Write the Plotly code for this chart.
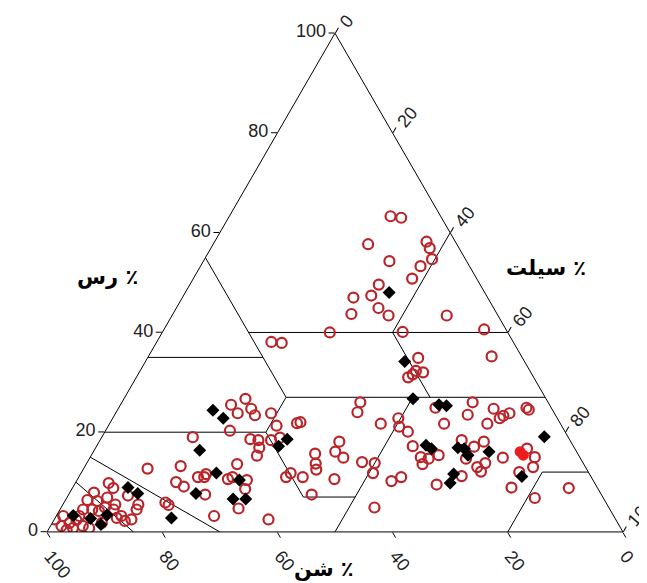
import plotly.graph_objects as go

# red open circles: clay %, sand % (silt = rest)
red_clay = [12.7, 9.8, 8.8, 7.9, 6.4, 6.2, 6.9, 5.5, 7.3, 5.5, 4.5, 2.5, 3.2, 1.2, 1.8, 0.8,
            1.2, 0.8, 3.2, 4.5, 4.5, 4.2, 4.9, 4.5, 3.2, 2.5, 2.8, 2.2, 0.4, 2.4, 1.8,
            5.9, 5.4, 19.0, 13.2, 10.0, 9.1, 11.0, 11.0, 11.6, 7.5, 3.2, 20.3, 25.5, 23.8,
            26.7, 24.7, 23.4, 23.8, 21.3, 21.8, 18.6, 18.4, 16.9, 15.3, 18.4, 18.9, 13.6,
            10.6, 11.0, 10.4, 8.6, 4.7, 2.5, 11.0, 11.8, 38.1, 37.9, 40.0,
            22.0, 26.0, 24.0, 21.7, 22.8, 21.1, 20.1, 17.2, 13.6, 18.1, 16.1, 14.9, 15.7,
            13.7, 12.5, 14.0, 13.8, 11.8, 10.6, 11.0, 10.2, 11.0, 7.5, 4.9, 31.0,
            63.3, 63.0, 57.7, 58.2, 56.9, 54.7, 54.3, 53.3, 50.8, 49.6, 47.4, 47.0, 43.7,
            44.9, 43.4, 43.4, 40.1, 40.6, 35.2, 34.9, 32.3, 32.0, 31.6,
            26.0, 24.9, 23.5, 24.7, 23.3, 23.8, 22.8, 24.9, 24.5, 21.7, 21.7, 15.0, 14.7,
            15.4, 18.4, 17.1, 18.1, 14.7, 13.0, 12.1, 13.8, 14.9, 11.2, 9.5, 16.7, 15.0,
            13.0, 12.0, 8.9, 6.8, 8.8]
red_sand = [76.2, 84.4, 84.1, 87.9, 89.8, 88.2, 86.1, 85.4, 82.3, 81.4, 82.2, 97.4, 95.6, 96.9, 95.2, 95.1,
            93.2, 92.3, 92.8, 91.5, 89.9, 88.9, 87.5, 86.2, 85.5, 84.1, 86.5, 85.4, 96.4, 93.7, 89.6,
            76.5, 76.2, 65.2, 70.2, 72.6, 71.7, 68.3, 67.2, 66.6, 68.8, 69.4, 58.1, 55.3, 55.0,
            52.2, 52.2, 52.2, 49.2, 49.5, 45.7, 55.4, 54.1, 54.7, 55.9, 51.9, 50.1, 60.2,
            63.3, 62.3, 60.1, 61.3, 64.4, 60.3, 53.0, 51.8, 42.0, 40.3, 30.9,
            45.0, 32.6, 34.1, 31.2, 27.6, 28.3, 27.3, 27.9, 28.0, 40.2, 41.9, 41.1, 45.6,
            46.5, 47.0, 38.3, 36.2, 37.5, 44.8, 50.1, 35.1, 33.0, 50.3, 40.7, 21.8,
            8.7, 7.0, 15.4, 5.0, 5.1, 5.8, 13.4, 8.5, 11.2, 17.6, 20.0, 23.3, 25.3,
            20.0, 19.0, 8.9, 18.2, 3.8, 5.2, 18.1, 19.8, 18.7, 20.7,
            13.1, 20.1, 15.2, 10.1, 9.1, 7.8, 10.0, 4.3, 4.1, 20.2, 12.7, 27.6, 26.4,
            24.3, 18.8, 17.3, 15.1, 19.9, 18.8, 18.6, 17.0, 13.4, 22.4, 27.6, 8.3, 7.8,
            9.1, 12.0, 14.9, 11.9, 5.0]

# black diamonds
black_clay = [3.3, 2.7, 1.5, 3.4, 8.9, 7.7, 2.8, 7.7, 16.4, 24.4, 22.8, 11.8, 10.4, 6.6, 6.6,
              17.2, 18.6, 48.0, 34.2, 26.7, 25.5, 25.3, 17.4, 16.7, 16.9, 16.7, 15.4, 16.1,
              11.6, 9.8, 19.1, 11.1]
black_sand = [93.8, 91.1, 89.9, 87.9, 81.5, 80.4, 77.0, 70.3, 65.3, 59.0, 58.0, 64.7, 61.4, 64.4, 62.2,
              51.2, 49.0, 16.6, 20.8, 23.1, 19.2, 18.0, 25.5, 24.9, 20.2, 19.2, 19.2, 15.2,
              23.6, 25.1, 4.1, 12.0]

# filled red circles
fill_clay = [16.1, 15.4]
fill_sand = [9.8, 9.6]

# USDA texture class boundaries: (clay, sand, silt) start -> end
class_lines = [
    ((55, 45, 0), (27, 45, 28)),
    ((35, 65, 0), (35, 45, 20)),
    ((40, 45, 15), (40, 0, 60)),
    ((40, 20, 40), (60, 0, 40)),
    ((40, 20, 40), (27, 20, 53)),
    ((27, 45, 28), (27, 0, 73)),
    ((20, 80, 0), (20, 52, 28)),
    ((20, 52, 28), (27, 45, 28)),
    ((20, 52, 28), (7, 52, 41)),
    ((7, 52, 41), (7, 43, 50)),
    ((0, 50, 50), (27, 23, 50)),
    ((0, 20, 80), (12, 8, 80)),
    ((12, 8, 80), (12, 0, 88)),
    ((15, 85, 0), (0, 70, 30)),
    ((10, 90, 0), (0, 85, 15)),
]

ticks = [0, 20, 40, 60, 80, 100]


def silt_of(clay, sand):
    return [100 - c - s for c, s in zip(clay, sand)]


la, lb, lc = [], [], []
for p, q in class_lines:
    la += [p[0], q[0], None]
    lb += [p[1], q[1], None]
    lc += [p[2], q[2], None]

fig = go.Figure()
fig.add_trace(go.Scatterternary(a=la, b=lb, c=lc, mode="lines",
                                line=dict(color="black", width=1), hoverinfo="skip"))
fig.add_trace(go.Scatterternary(a=red_clay, b=red_sand, c=silt_of(red_clay, red_sand),
                                mode="markers", hoverinfo="skip",
                                marker=dict(symbol="circle-open", size=10, color="#b8262b",
                                            line=dict(width=2.2))))
fig.add_trace(go.Scatterternary(a=fill_clay, b=fill_sand, c=silt_of(fill_clay, fill_sand),
                                mode="markers", hoverinfo="skip",
                                marker=dict(symbol="circle", size=11, color="#ee1c1c")))
fig.add_trace(go.Scatterternary(a=black_clay, b=black_sand, c=silt_of(black_clay, black_sand),
                                mode="markers", hoverinfo="skip",
                                marker=dict(symbol="diamond", size=10, color="black")))

tick_font = dict(family="Liberation Sans, Arial", size=18, color="#222")
axis_common = dict(tickmode="array", tickvals=ticks, ticks="outside", ticklen=6,
                   tickcolor="black", showgrid=False, showline=True, linecolor="black",
                   linewidth=1, tickfont=tick_font, title=dict(text=""))

title_font = dict(family="DejaVu Sans", size=21, color="black")

fig.update_layout(
    width=647, height=583,
    margin=dict(l=0, r=0, t=0, b=0),
    paper_bgcolor="white",
    showlegend=False,
    ternary=dict(
        sum=100,
        bgcolor="white",
        domain=dict(x=[0.0604, 0.9504], y=[0.101, 0.957]),
        aaxis=dict(axis_common, tickangle=0),
        baxis=dict(axis_common, tickangle=50),
        caxis=dict(axis_common, tickangle=-50),
    ),
    annotations=[
        dict(text="<b>رس ٪</b>", x=0.104, y=0.539, xref="paper", yref="paper",
             showarrow=False, font=title_font),
        dict(text="<b>سیلت ٪</b>", x=0.896, y=0.554, xref="paper", yref="paper",
             showarrow=False, font=title_font),
        dict(text="<b>شن ٪</b>", x=0.488, y=0.014, xref="paper", yref="paper",
             showarrow=False, font=title_font),
    ],
)

fig.write_html("out.html")
